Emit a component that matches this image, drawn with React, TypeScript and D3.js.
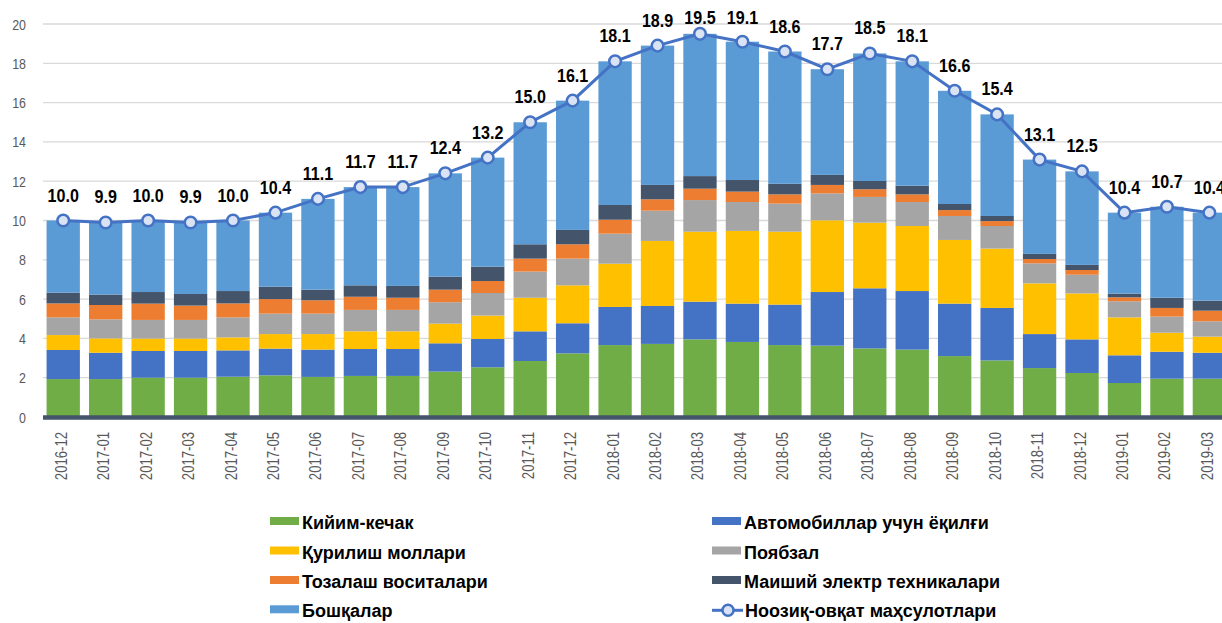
import React from "react";
import * as d3 from "d3";

const categories = [
  "2016-12", "2017-01", "2017-02", "2017-03", "2017-04", "2017-05", "2017-06",
  "2017-07", "2017-08", "2017-09", "2017-10", "2017-11", "2017-12", "2018-01",
  "2018-02", "2018-03", "2018-04", "2018-05", "2018-06", "2018-07", "2018-08",
  "2018-09", "2018-10", "2018-11", "2018-12", "2019-01", "2019-02", "2019-03",
];

const clothing = [1.93, 1.93, 2.0, 2.0, 2.05, 2.12, 2.04, 2.09, 2.09, 2.31, 2.53, 2.85, 3.24, 3.66, 3.72, 3.95, 3.82, 3.66, 3.63, 3.49, 3.43, 3.1, 2.88, 2.49, 2.24, 1.73, 1.95, 1.95];
const fuel = [1.48, 1.34, 1.36, 1.36, 1.34, 1.36, 1.39, 1.37, 1.37, 1.44, 1.44, 1.51, 1.53, 1.94, 1.93, 1.92, 1.95, 2.06, 2.73, 3.06, 2.98, 2.67, 2.67, 1.73, 1.71, 1.41, 1.37, 1.32];
const construction = [0.76, 0.73, 0.63, 0.63, 0.66, 0.74, 0.79, 0.9, 0.9, 1.0, 1.19, 1.71, 1.93, 2.2, 3.31, 3.56, 3.7, 3.71, 3.65, 3.34, 3.31, 3.24, 3.02, 2.58, 2.34, 1.93, 0.97, 0.82];
const footwear = [0.9, 0.97, 0.95, 0.95, 1.02, 1.04, 1.04, 1.09, 1.09, 1.09, 1.15, 1.33, 1.36, 1.53, 1.54, 1.61, 1.47, 1.43, 1.37, 1.31, 1.22, 1.22, 1.15, 1.02, 0.95, 0.82, 0.82, 0.78];
const cleaning = [0.71, 0.73, 0.83, 0.73, 0.71, 0.74, 0.68, 0.67, 0.62, 0.64, 0.61, 0.66, 0.73, 0.71, 0.58, 0.58, 0.53, 0.47, 0.43, 0.39, 0.39, 0.3, 0.25, 0.22, 0.24, 0.2, 0.44, 0.54];
const appliances = [0.55, 0.53, 0.59, 0.59, 0.63, 0.63, 0.54, 0.58, 0.6, 0.66, 0.73, 0.73, 0.73, 0.75, 0.73, 0.64, 0.59, 0.54, 0.51, 0.42, 0.44, 0.31, 0.26, 0.26, 0.26, 0.19, 0.52, 0.51];
const others = [3.67, 3.67, 3.64, 3.64, 3.59, 3.77, 4.62, 5.0, 5.03, 5.26, 5.55, 6.21, 6.58, 7.31, 7.09, 7.24, 7.04, 6.73, 5.38, 6.49, 6.33, 5.76, 5.17, 4.8, 4.76, 4.12, 4.63, 4.48];
const nonFood = [10.0, 9.9, 10.0, 9.9, 10.0, 10.4, 11.1, 11.7, 11.7, 12.4, 13.2, 15.0, 16.1, 18.1, 18.9, 19.5, 19.1, 18.6, 17.7, 18.5, 18.1, 16.6, 15.4, 13.1, 12.5, 10.4, 10.7, 10.4];

const yTicks = [0, 2, 4, 6, 8, 10, 12, 14, 16, 18, 20];

const seriesKeys = ["clothing", "fuel", "construction", "footwear", "cleaning", "appliances", "others"];
const seriesNames = [
  "Кийим-кечак",
  "Автомобиллар учун ёқилғи",
  "Қурилиш моллари",
  "Поябзал",
  "Тозалаш воситалари",
  "Маиший электр техникалари",
  "Бошқалар",
];
const lineName = "Ноозиқ-овқат маҳсулотлари";
const colors = ["#70AD47", "#4472C4", "#FFC000", "#A5A5A5", "#ED7D31", "#44546A", "#5B9BD5"];
const lineColor = "#4472C4";
const markerFill = "#DAE3F3";

const seriesData = [clothing, fuel, construction, footwear, cleaning, appliances, others];

export default function App() {
  const W = 1222;
  const H = 623;
  const plotLeft = 42;

  const rows = categories.map((c, i) => {
    const r: any = { cat: c };
    seriesKeys.forEach((k, j) => (r[k] = seriesData[j][i]));
    return r;
  });
  const stacked = d3.stack().keys(seriesKeys)(rows);

  const x = d3
    .scaleBand<string>()
    .domain(categories)
    .range([plotLeft, plotLeft + 28 * 42.45])
    .paddingInner(0.215)
    .paddingOuter(0.1075);
  const y = d3.scaleLinear().domain([0, 20]).range([417, 24]);
  const cx = (c: string) => (x(c) as number) + x.bandwidth() / 2;

  const linePath = d3
    .line<number>()
    .x((_, i) => cx(categories[i]))
    .y((v) => y(v))(nonFood) as string;

  const font = "'Liberation Sans', Arial, sans-serif";

  const legendItems = [
    { name: seriesNames[0], color: colors[0], col: 0, row: 0 },
    { name: seriesNames[1], color: colors[1], col: 1, row: 0 },
    { name: seriesNames[2], color: colors[2], col: 0, row: 1 },
    { name: seriesNames[3], color: colors[3], col: 1, row: 1 },
    { name: seriesNames[4], color: colors[4], col: 0, row: 2 },
    { name: seriesNames[5], color: colors[5], col: 1, row: 2 },
    { name: seriesNames[6], color: colors[6], col: 0, row: 3 },
  ];
  const legendColX = [270, 712];
  const legendRowY = [529, 558.5, 588, 617.3];

  return (
    <svg
      width={W}
      height={H}
      style={{ position: "absolute", left: 0, top: 0, background: "#fff" }}
      fontFamily={font}
    >
      {yTicks.map((t) => (
        <line key={t} x1={plotLeft + 1} x2={W} y1={y(t)} y2={y(t)} stroke="#D9D9D9" strokeWidth={1.3} />
      ))}
      {yTicks.map((t) => (
        <g key={"yl" + t} transform={`translate(26, ${y(t)}) scale(0.8, 1)`}>
          <text textAnchor="end" dy="0.36em" fontSize={15.5} fill="#595959">
            {t}
          </text>
        </g>
      ))}
      {stacked.map((s, j) => (
        <g key={s.key} fill={colors[j]}>
          {s.map((d, i) => (
            <rect
              key={i}
              x={x(categories[i])}
              width={x.bandwidth()}
              y={y(d[1])}
              height={y(d[0]) - y(d[1])}
            />
          ))}
        </g>
      ))}
      <line x1={plotLeft + 1} x2={W} y1={y(0) + 0.5} y2={y(0) + 0.5} stroke="#44546A" strokeWidth={4.5} />
      {categories.map((c) => (
        <g key={"xl" + c} transform={`translate(${cx(c) + 3.5}, 432) rotate(-90) scale(0.82, 1)`}>
          <text textAnchor="end" fontSize={16} fill="#595959">
            {c}
          </text>
        </g>
      ))}
      <path d={linePath} fill="none" stroke={lineColor} strokeWidth={3} />
      {nonFood.map((v, i) => (
        <circle key={"m" + i} cx={cx(categories[i])} cy={y(v)} r={5.8} fill={markerFill} stroke={lineColor} strokeWidth={2.5} />
      ))}
      {nonFood.map((v, i) => (
        <g key={"dl" + i} transform={`translate(${cx(categories[i])}, ${Math.max(y(v) - 19, 23.5)}) scale(0.87, 1)`}>
          <text textAnchor="middle" fontSize={18.5} fontWeight="bold" fill="#000">
            {v.toFixed(1)}
          </text>
        </g>
      ))}
      {legendItems.map((it) => (
        <g key={it.name} transform={`translate(${legendColX[it.col]}, ${legendRowY[it.row]})`}>
          <rect x={0} y={-12} width={29} height={8} fill={it.color} />
          <text x={32} fontSize={18} fontWeight="bold" fill="#000">
            {it.name}
          </text>
        </g>
      ))}
      <g transform={`translate(${legendColX[1]}, ${legendRowY[3]})`}>
        <line x1={0} x2={31} y1={-7} y2={-7} stroke={lineColor} strokeWidth={3} />
        <circle cx={16} cy={-7} r={5.5} fill={markerFill} stroke={lineColor} strokeWidth={2.5} />
        <text x={33} fontSize={18} fontWeight="bold" fill="#000">
          {lineName}
        </text>
      </g>
    </svg>
  );
}
